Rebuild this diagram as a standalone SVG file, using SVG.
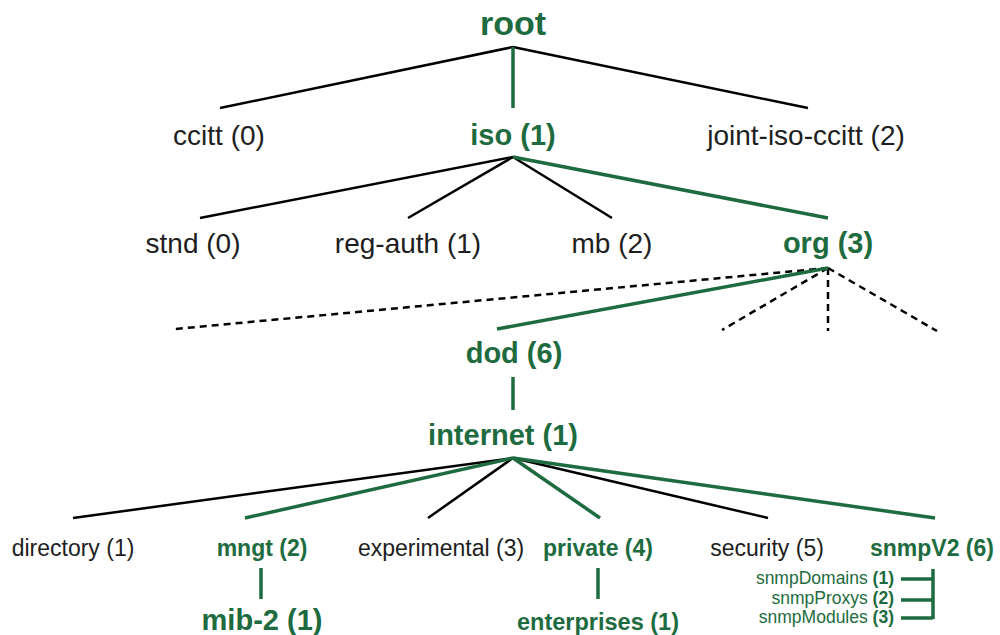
<svg xmlns="http://www.w3.org/2000/svg" width="1000" height="635" viewBox="0 0 1000 635">
<style>
text{font-family:"Liberation Sans",Arial,sans-serif;text-anchor:middle}
.d{fill:#1e1e1e;font-size:28px}
.g{fill:#1e6b40;font-size:29px;font-weight:bold}
.d4{fill:#1e1e1e;font-size:23px}
.g4{fill:#1e6b40;font-size:23px;font-weight:bold}
.s{fill:#1e6b40;font-size:17.5px;text-anchor:end}
.s tspan{font-weight:bold}
.k{stroke:#000;stroke-width:2.5;fill:none}
.gl{stroke:#1e6b40;stroke-width:3.5;fill:none}
.dash{stroke:#000;stroke-width:2.5;stroke-dasharray:7,5;fill:none}
</style>
<rect width="1000" height="635" fill="#fff"/>
<g id="connectors">
<line class="k" x1="513" y1="47" x2="220" y2="108"/>
<line class="k" x1="513" y1="47" x2="808" y2="108"/>
<line class="gl" x1="513" y1="47" x2="513" y2="108"/>
<line class="k" x1="513" y1="157" x2="200" y2="218"/>
<line class="k" x1="513" y1="157" x2="408" y2="218"/>
<line class="k" x1="513" y1="157" x2="612" y2="218"/>
<line class="gl" x1="513" y1="157" x2="828" y2="218"/>
<line class="dash" x1="828" y1="268" x2="175" y2="329"/>
<line class="dash" x1="828" y1="268" x2="722" y2="330"/>
<line class="dash" x1="828" y1="268" x2="828" y2="331"/>
<line class="dash" x1="828" y1="268" x2="937" y2="331"/>
<line class="gl" x1="828" y1="268" x2="497" y2="329"/>
<line class="gl" x1="513" y1="377" x2="513" y2="410"/>
<line class="k" x1="513" y1="458" x2="73" y2="518"/>
<line class="k" x1="513" y1="458" x2="428" y2="518"/>
<line class="k" x1="513" y1="458" x2="768" y2="518"/>
<line class="gl" x1="513" y1="458" x2="245" y2="518"/>
<line class="gl" x1="513" y1="458" x2="600" y2="518"/>
<line class="gl" x1="513" y1="458" x2="935" y2="518"/>
<line class="gl" x1="261" y1="568" x2="261" y2="599"/>
<line class="gl" x1="598" y1="568" x2="598" y2="599"/>
<line class="gl" x1="933" y1="569" x2="933" y2="619" stroke-width="3"/>
<line class="gl" x1="901" y1="579" x2="933" y2="579" stroke-width="2"/>
<line class="gl" x1="901" y1="600" x2="933" y2="600" stroke-width="3"/>
<line class="gl" x1="901" y1="618" x2="933" y2="618" stroke-width="3"/>
</g>
<g id="root"><text class="g" x="513" y="35" style="font-size:34px">root</text></g>
<g id="ccitt"><text class="d" x="219" y="145">ccitt (0)</text></g>
<g id="iso"><text class="g" x="513" y="145">iso (1)</text></g>
<g id="joint-iso-ccitt"><text class="d" x="806" y="145">joint-iso-ccitt (2)</text></g>
<g id="stnd"><text class="d" x="193" y="253">stnd (0)</text></g>
<g id="reg-auth"><text class="d" x="408" y="253">reg-auth (1)</text></g>
<g id="mb"><text class="d" x="612" y="253">mb (2)</text></g>
<g id="org"><text class="g" x="828" y="253">org (3)</text></g>
<g id="dod"><text class="g" x="514" y="363">dod (6)</text></g>
<g id="internet"><text class="g" x="503" y="445">internet (1)</text></g>
<g id="directory"><text class="d4" x="73" y="556">directory (1)</text></g>
<g id="mngt"><text class="g4" x="262" y="556">mngt (2)</text></g>
<g id="experimental"><text class="d4" x="441" y="556">experimental (3)</text></g>
<g id="private"><text class="g4" x="598" y="556">private (4)</text></g>
<g id="security"><text class="d4" x="767" y="556">security (5)</text></g>
<g id="snmpV2"><text class="g4" x="932" y="556">snmpV2 (6)</text></g>
<g id="mib-2"><text class="g" x="262" y="630">mib-2 (1)</text></g>
<g id="enterprises"><text class="g" x="598" y="630" style="font-size:23.5px">enterprises (1)</text></g>
<g id="snmpDomains"><text class="s" x="894" y="584">snmpDomains <tspan>(1)</tspan></text></g>
<g id="snmpProxys"><text class="s" x="894" y="604">snmpProxys <tspan>(2)</tspan></text></g>
<g id="snmpModules"><text class="s" x="894" y="623">snmpModules <tspan>(3)</tspan></text></g>
</svg>
